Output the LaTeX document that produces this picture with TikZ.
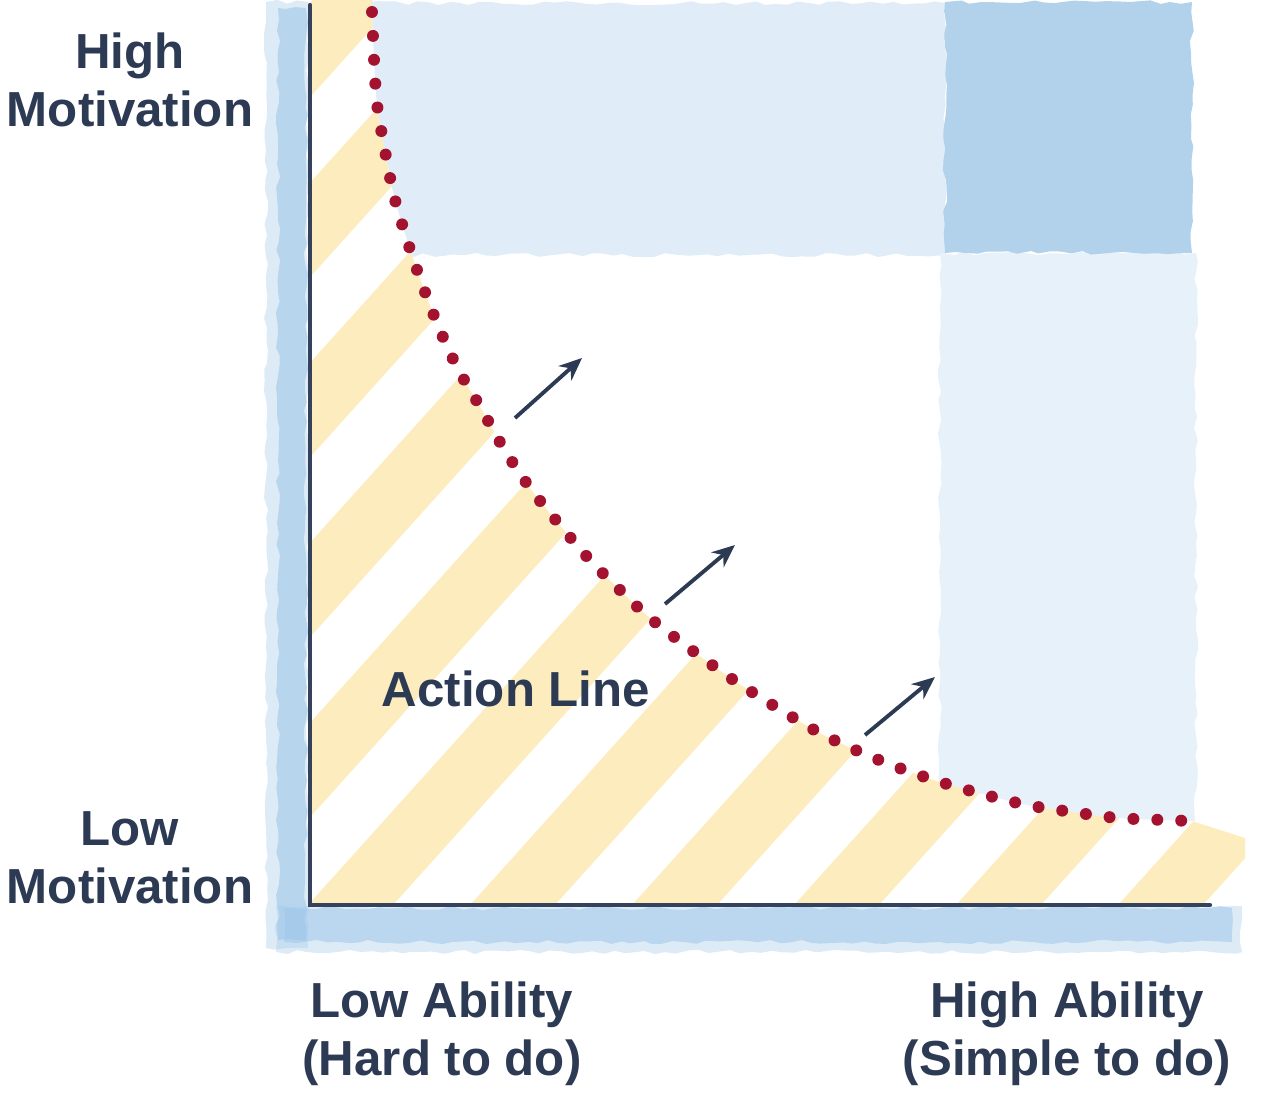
\documentclass[tikz,border=0pt]{standalone}
\usepackage{fontspec}
\setmainfont{Liberation Sans}
\usetikzlibrary{arrows.meta,decorations.pathmorphing}
\definecolor{ink}{HTML}{2D3A54}
\definecolor{axisline}{HTML}{34425C}
\definecolor{dotred}{HTML}{A3122E}
\definecolor{washlight}{HTML}{E0EDF8}
\definecolor{washpale}{HTML}{E7F1FA}
\definecolor{washdark}{HTML}{B2D1EB}
\definecolor{washedge}{HTML}{9FC7E8}
\definecolor{stripefill}{HTML}{FBE6A8}
\newcommand{\labfont}{\fontsize{14}{16.5}\selectfont\bfseries}
\tikzset{
 every node/.append style={font=\labfont,text=ink,align=center,inner sep=0pt},
 wash/.style={decorate,decoration={random steps,segment length=3pt,amplitude=.6pt}},
 stripe/.style={fill=stripefill,opacity=.75},
 axis/.style={draw=axisline,line width=1.2pt,line cap=round,line join=miter},
 dots/.style={draw=dotred,line width=3.4pt,line cap=round,dash pattern=on 0pt off 6.8pt},
 push/.style={-{Stealth[length=6.5pt,width=5.5pt]},draw=ink,line width=1.1pt},
}

\begin{document}
\begin{tikzpicture}[x=0.01cm,y=-0.01cm]
\useasboundingbox (0,0) rectangle (1288,1096);

\fill[washedge,opacity=.35,wash] (266,2) rectangle (308,948);
\fill[washedge,opacity=.6,wash] (278,8) rectangle (306,940);
\fill[washedge,opacity=.35,wash] (276,906) rectangle (1242,952);
\fill[washedge,opacity=.55,wash] (284,908) rectangle (1232,942);

\begin{scope}
\clip (372,0) -- plot[smooth] coordinates {(372,4) (374,59) (377,104) (385,151) (394,196) (407,240) (422,284) (439,328) (458,369) (482,410) (504,449) (530,488) (559,524) (589,559) (622,592) (656,623) (732,679) (809,727) (851,748) (894,766) (937,781) (982,794) (1027,805) (1072,812) (1118,818) (1165,820) (1192,821)} -- (1288,821) -- (1288,0) -- cycle;
\fill[washlight,wash] (360,3) rectangle (945,255);
\fill[washpale,wash] (940,253) rectangle (1196,840);
\fill[washdark,wash] (945,2) rectangle (1192,253);
\end{scope}

\begin{scope}
\clip (310,905) -- (310,0) -- (372,0) -- plot[smooth] coordinates {(372,4) (374,59) (377,104) (385,151) (394,196) (407,240) (422,284) (439,328) (458,369) (482,410) (504,449) (530,488) (559,524) (589,559) (622,592) (656,623) (732,679) (809,727) (851,748) (894,766) (937,781) (982,794) (1027,805) (1072,812) (1118,818) (1165,820) (1192,821)} -- (1245,838) -- (1245,905) -- cycle;
\foreach \s in {-7,...,5}
  \fill[stripe] ({470+162*\s},905) -- ++(85,0) -- ++(900,-1000) -- ++(-85,0) -- cycle;
\end{scope}

\coordinate (ytop) at (310,5);
\coordinate (origin) at (310,905);
\coordinate (xend) at (1210,905);
\draw[axis] (ytop) -- (origin) -- (xend);

\draw[dots] plot[smooth] coordinates {(372,12) (374,59) (377,104) (385,151) (394,196) (407,240) (422,284) (439,328) (458,369) (482,410) (504,449) (530,488) (559,524) (589,559) (622,592) (656,623) (732,679) (809,727) (851,748) (894,766) (937,781) (982,794) (1027,805) (1072,812) (1118,818) (1165,820) (1192,821)};

\coordinate (push1a) at (515,418);
\coordinate (push1b) at (582,358);
\coordinate (push2a) at (665,604);
\coordinate (push2b) at (735,545);
\coordinate (push3a) at (865,735);
\coordinate (push3b) at (935,677);
\draw[push] (push1a) -- (push1b);
\draw[push] (push2a) -- (push2b);
\draw[push] (push3a) -- (push3b);

\node (actionline) at (516,689) {Action Line};
\node (highmot) at (130,80) {High\\Motivation};
\node (lowmot) at (130,858) {Low\\Motivation};
\node (lowab) at (442,1034) {Low Ability\\(Hard to do)};
\node (highab) at (1067,1034) {High Ability\\(Simple to do)};

\end{tikzpicture}
\end{document}
